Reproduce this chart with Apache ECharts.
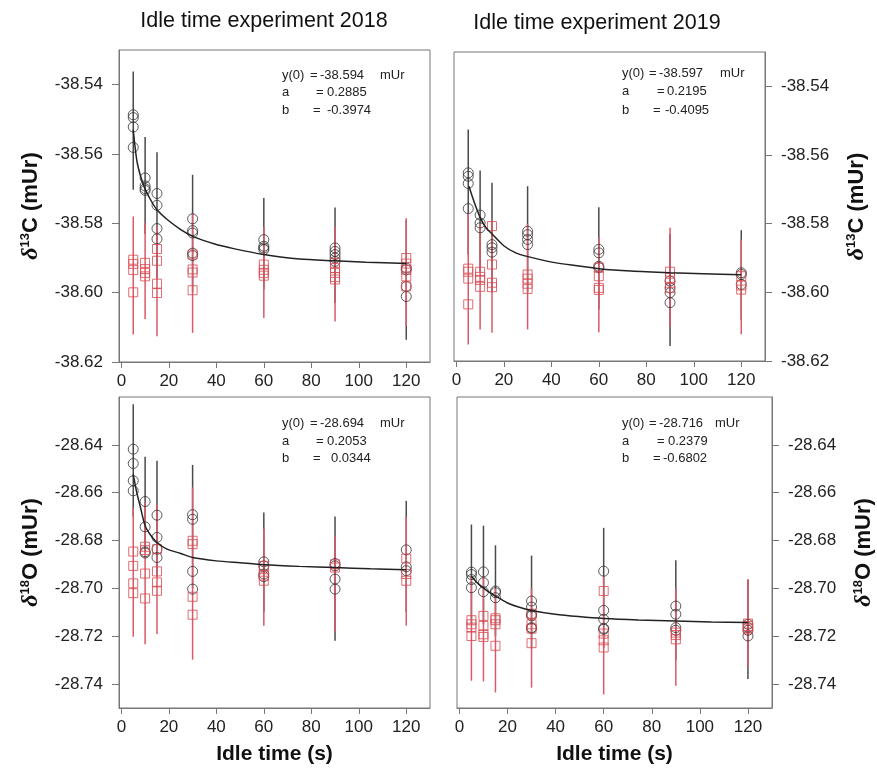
<!DOCTYPE html>
<html>
<head>
<meta charset="utf-8">
<script src="https://cdn.jsdelivr.net/npm/echarts@6/dist/echarts.min.js"></script>
<style>
  html, body { margin: 0; padding: 0; background: #fff; }
  #chart { width: 877px; height: 773px; }
</style>
</head>
<body>
<div id="chart"></div>
<script>
// idle times (s)
var idleTimes = [5, 10, 15, 30, 60, 90, 120];
var xTicks = [0, 20, 40, 60, 80, 100, 120];
var yTicksC = [-38.62, -38.60, -38.58, -38.56, -38.54];
var yTicksO = [-28.74, -28.72, -28.70, -28.68, -28.66, -28.64];

var panelTitles = ['Idle time experiment 2018', 'Idle time experiment 2019'];
var fitLabels = ['y(0)', 'a', 'b'];

//// 2018 d13C ////
var c18Black = [
    [-38.5487, -38.5495, -38.5522, -38.5581],
    [-38.5669, -38.5692, -38.5700, -38.5705],
    [-38.5714, -38.5748, -38.5815, -38.5845],
    [-38.5787, -38.5821, -38.5828, -38.5886, -38.5893],
    [-38.5847, -38.5866, -38.5871, -38.5876],
    [-38.5871, -38.5881, -38.5890, -38.5900, -38.5910],
    [-38.5929, -38.5934, -38.5982, -38.6011]
];
var c18Red = [
    [-38.5905, -38.5917, -38.5935, -38.5999],
    [-38.5914, -38.5932, -38.5943, -38.5953],
    [-38.5874, -38.5908, -38.5974, -38.6001],
    [-38.5890, -38.5933, -38.5942, -38.5993],
    [-38.5919, -38.5934, -38.5943, -38.5951],
    [-38.5914, -38.5929, -38.5943, -38.5955, -38.5962],
    [-38.5900, -38.5916, -38.5934, -38.5953, -38.5982]
];
var c18BlackHi = [-38.5362, -38.5551, -38.5595, -38.5660, -38.5727, -38.5754, -38.5790];
var c18BlackLo = [-38.5703, -38.5830, -38.5960, -38.6000, -38.5990, -38.6030, -38.6136];
var c18RedHi = [-38.5780, -38.5797, -38.5809, -38.5770, -38.5810, -38.5810, -38.5785];
var c18RedLo = [-38.6121, -38.6076, -38.6126, -38.6116, -38.6073, -38.6083, -38.6097];
var c18Fit = [[5, -38.5530], [6.7, -38.5626], [9.5, -38.5693], [12.3, -38.5732], [15, -38.5761],
    [19.3, -38.5789], [25, -38.5818], [30.5, -38.5839], [39, -38.5859], [47.3, -38.5873],
    [60, -38.5890], [75, -38.5903], [90, -38.5908], [103, -38.5912], [120, -38.5916]];
var c18Params = ['-38.594', '0.2885', '-0.3974'];

//// 2019 d13C ////
var c19Black = [
    [-38.5652, -38.5662, -38.5683, -38.5756],
    [-38.5775, -38.5798, -38.5812],
    [-38.5861, -38.5870, -38.5883],
    [-38.5822, -38.5832, -38.5846, -38.5861],
    [-38.5875, -38.5885, -38.5924, -38.5928],
    [-38.5967, -38.5987, -38.6001, -38.6030],
    [-38.5943, -38.5948, -38.5977]
];
var c19Red = [
    [-38.5931, -38.5940, -38.5960, -38.6035],
    [-38.5940, -38.5955, -38.5964, -38.5984],
    [-38.5807, -38.5919, -38.5972, -38.5985],
    [-38.5948, -38.5960, -38.5975, -38.5990],
    [-38.5928, -38.5953, -38.5987, -38.5993],
    [-38.5940, -38.5958, -38.5972, -38.5987],
    [-38.5953, -38.5980, -38.5992]
];
var c19BlackHi = [-38.5526, -38.5645, -38.5681, -38.5691, -38.5752, -38.5830, -38.5819];
var c19BlackLo = [-38.5890, -38.5940, -38.6000, -38.6000, -38.6050, -38.6156, -38.6080];
var c19RedHi = [-38.5768, -38.5800, -38.5790, -38.5800, -38.5840, -38.5812, -38.5846];
var c19RedLo = [-38.6152, -38.6108, -38.6118, -38.6108, -38.6116, -38.6100, -38.6122];
var c19Fit = [[5.3, -38.5691], [7.6, -38.5739], [10.1, -38.5783], [12.5, -38.5812], [15.3, -38.5832],
    [20.1, -38.5865], [25, -38.5885], [30.2, -38.5896], [40.2, -38.5912], [50, -38.5922],
    [60, -38.5931], [73.5, -38.5938], [90, -38.5943], [104, -38.5946], [120, -38.5949]];
var c19Params = ['-38.597', '0.2195', '-0.4095'];

//// 2018 d18O ////
var o18Black = [
    [-28.6418, -28.6478, -28.6550, -28.6592],
    [-28.6637, -28.6743, -28.6847, -28.6852],
    [-28.6694, -28.6787, -28.6836, -28.6871],
    [-28.6692, -28.6711, -28.6929, -28.7003],
    [-28.6889, -28.6906, -28.6940, -28.6951],
    [-28.6896, -28.6906, -28.6961, -28.7003],
    [-28.6839, -28.6910, -28.6926]
];
var o18Red = [
    [-28.6846, -28.6906, -28.6979, -28.7020],
    [-28.6826, -28.6840, -28.6938, -28.7042],
    [-28.6836, -28.6929, -28.6975, -28.7010],
    [-28.6801, -28.6815, -28.7035, -28.7110],
    [-28.6906, -28.6920, -28.6947, -28.6968],
    [-28.6899, -28.6913],
    [-28.6875, -28.6940, -28.6968]
];
var o18BlackHi = [-28.6230, -28.6450, -28.6467, -28.6484, -28.6683, -28.6699, -28.6634];
var o18BlackLo = [-28.6700, -28.6850, -28.6950, -28.7000, -28.7100, -28.7219, -28.7100];
var o18RedHi = [-28.6662, -28.6640, -28.6650, -28.6578, -28.6750, -28.6780, -28.6700];
var o18RedLo = [-28.7202, -28.7233, -28.7191, -28.7298, -28.7156, -28.7180, -28.7156];
var o18Fit = [[5, -28.6523], [6.5, -28.6600], [8, -28.6660], [10, -28.6738], [12.5, -28.6780],
    [15, -28.6808], [19.2, -28.6836], [25, -28.6854], [30, -28.6871], [40, -28.6885],
    [50, -28.6893], [60, -28.6901], [75, -28.6908], [90, -28.6913], [105, -28.6918], [120, -28.6922]];
var o18Params = ['-28.694', '0.2053', '0.0344'];

//// 2019 d18O ////
var o19Black = [
    [-28.6932, -28.6942, -28.6963, -28.6997],
    [-28.6931, -28.6976, -28.7014],
    [-28.7011, -28.7018, -28.7039],
    [-28.7053, -28.7078, -28.7108, -28.7115, -28.7164, -28.7167],
    [-28.6928, -28.7092, -28.7129, -28.7167, -28.7171],
    [-28.7074, -28.7108, -28.7164, -28.7175],
    [-28.7150, -28.7164, -28.7175, -28.7199]
];
var o19Red = [
    [-28.7133, -28.7150, -28.7164, -28.7199],
    [-28.7115, -28.7157, -28.7192, -28.7203],
    [-28.7125, -28.7133, -28.7150, -28.7240],
    [-28.7106, -28.7150, -28.7168, -28.7229],
    [-28.7011, -28.7189, -28.7217, -28.7247],
    [-28.7185, -28.7195, -28.7213],
    [-28.7147, -28.7157, -28.7164, -28.7171]
];
var o19BlackHi = [-28.6733, -28.6738, -28.6820, -28.6863, -28.6747, -28.6882, -28.6963];
var o19BlackLo = [-28.7150, -28.7150, -28.7200, -28.7250, -28.7250, -28.7300, -28.7379];
var o19RedHi = [-28.6950, -28.6950, -28.7000, -28.7000, -28.6950, -28.7000, -28.6963];
var o19RedLo = [-28.7386, -28.7389, -28.7435, -28.7415, -28.7443, -28.7407, -28.7330];
var o19Fit = [[5, -28.6949], [7.35, -28.6976], [9.8, -28.6997], [12.2, -28.7015], [15, -28.7032],
    [19.8, -28.7060], [24.6, -28.7078], [30, -28.7092], [39.8, -28.7108], [49.5, -28.7118],
    [60, -28.7126], [74.4, -28.7132], [90, -28.7136], [104.8, -28.7140], [120, -28.7143]];
var o19Params = ['-28.716', '0.2379', '-0.6802'];

var FONT = '"Liberation Sans", Arial, sans-serif';
var BLACK = '#333333';
var RED = '#d9474f';
var RED_BAR = '#d95a68';

function toPoints(groups) {
    var pts = [];
    groups.forEach(function (ys, i) {
        ys.forEach(function (y) { pts.push([idleTimes[i], y]); });
    });
    return pts;
}

function toBars(lo, hi) {
    return idleTimes.map(function (x, i) { return [x, lo[i], hi[i]]; });
}

function errSeries(idx, data, color, z) {
    return {
        type: 'custom',
        xAxisIndex: idx,
        yAxisIndex: idx,
        data: data,
        silent: true,
        z: z,
        encode: { x: 0, y: [1, 2] },
        renderItem: function (params, api) {
            var p1 = api.coord([api.value(0), api.value(1)]);
            var p2 = api.coord([api.value(0), api.value(2)]);
            return {
                type: 'line',
                shape: { x1: p1[0], y1: p1[1], x2: p2[0], y2: p2[1] },
                style: { stroke: color, lineWidth: 1.5 }
            };
        }
    };
}

function panelSeries(idx, black, red, bHi, bLo, rHi, rLo, fit) {
    return [
        errSeries(idx, toBars(bLo, bHi), '#4a4a4a', 1),
        errSeries(idx, toBars(rLo, rHi), RED_BAR, 2),
        {
            type: 'scatter', xAxisIndex: idx, yAxisIndex: idx, z: 3,
            symbol: 'circle', symbolSize: 10,
            itemStyle: { color: 'rgba(0,0,0,0)', borderColor: BLACK, borderWidth: 1 },
            data: toPoints(black)
        },
        {
            type: 'scatter', xAxisIndex: idx, yAxisIndex: idx, z: 3,
            symbol: 'rect', symbolSize: 9,
            itemStyle: { color: 'rgba(0,0,0,0)', borderColor: RED, borderWidth: 1 },
            data: toPoints(red)
        },
        {
            type: 'line', xAxisIndex: idx, yAxisIndex: idx, z: 4,
            smooth: 0.25, showSymbol: false,
            lineStyle: { color: '#222', width: 1.5 },
            data: fit
        }
    ];
}

var grids = [
    { left: 119, top: 50, width: 311, height: 312 },
    { left: 454, top: 52, width: 311, height: 309 },
    { left: 119, top: 397, width: 311, height: 311 },
    { left: 457, top: 397, width: 315, height: 311 }
];

function xAxisFor(idx, withName) {
    return {
        type: 'value', gridIndex: idx, min: -1, max: 130,
        axisLine: { show: true, onZero: false, lineStyle: { color: '#777' } },
        axisTick: { show: true, length: 6, customValues: xTicks, lineStyle: { color: '#777' } },
        axisLabel: { customValues: xTicks, margin: 11, fontFamily: FONT, fontSize: 17, color: '#222' },
        splitLine: { show: false },
        name: withName ? 'Idle time (s)' : '',
        nameLocation: 'middle', nameGap: 36,
        nameTextStyle: { fontFamily: FONT, fontWeight: 'bold', fontSize: 21, color: '#111' }
    };
}

function yAxisFor(idx, ticks, min, max, right, iso) {
    return {
        type: 'value', gridIndex: idx, min: min, max: max,
        position: right ? 'right' : 'left',
        axisLine: { show: true, onZero: false, lineStyle: { color: '#777' } },
        axisTick: { show: true, length: 7, customValues: ticks, lineStyle: { color: '#777' } },
        axisLabel: {
            customValues: ticks, margin: 16, fontFamily: FONT, fontSize: 17, color: '#222',
            formatter: function (v) { return v.toFixed(2); }
        },
        splitLine: { show: false },
        name: '{d|δ}{s|' + iso[0] + '}{t|' + iso[1] + ' (mUr)}',
        nameLocation: 'middle', nameGap: right ? 80 : 76, nameRotate: 90,
        nameTextStyle: {
            rich: {
                d: { fontFamily: 'Liberation Serif, serif', fontStyle: 'italic', fontWeight: 'bold', fontSize: 24, color: '#111' },
                s: { fontFamily: FONT, fontWeight: 'bold', fontSize: 13, color: '#111', verticalAlign: 'top', padding: [0, 0, 10, 0] },
                t: { fontFamily: FONT, fontWeight: 'bold', fontSize: 22, color: '#111' }
            }
        }
    };
}

// fit parameter text blocks (pixel layout)
var fitBlocks = [
    { params: c18Params, lx: 282, eq: [310, 316, 313], val: [320, 327, 327], unit: 380, rows: [75, 92.5, 110] },
    { params: c19Params, lx: 622, eq: [649, 657, 653], val: [659, 667, 665], unit: 720, rows: [73, 91.5, 110] },
    { params: o18Params, lx: 282, eq: [310, 316, 313], val: [320, 327, 331], unit: 380, rows: [423, 441.5, 458.5] },
    { params: o19Params, lx: 622, eq: [649, 657, 653], val: [659, 668, 663], unit: 715, rows: [423, 441.5, 458.5] }
];

var TXT = '13px ' + FONT;
var graphics = [
    { type: 'text', x: 264, y: 21, style: { text: panelTitles[0], font: '21.5px ' + FONT, fill: '#111', textAlign: 'center', textVerticalAlign: 'middle' } },
    { type: 'text', x: 597, y: 23, style: { text: panelTitles[1], font: '21.5px ' + FONT, fill: '#111', textAlign: 'center', textVerticalAlign: 'middle' } }
];
fitBlocks.forEach(function (b) {
    for (var i = 0; i < 3; i++) {
        graphics.push({ type: 'text', x: b.lx, y: b.rows[i], style: { text: fitLabels[i], font: TXT, fill: '#222', textVerticalAlign: 'middle' } });
        graphics.push({ type: 'text', x: b.eq[i], y: b.rows[i], style: { text: '=', font: TXT, fill: '#222', textVerticalAlign: 'middle' } });
        graphics.push({ type: 'text', x: b.val[i], y: b.rows[i], style: { text: b.params[i], font: TXT, fill: '#222', textVerticalAlign: 'middle' } });
    }
    graphics.push({ type: 'text', x: b.unit, y: b.rows[0], style: { text: 'mUr', font: TXT, fill: '#222', textVerticalAlign: 'middle' } });
});

var myChart = echarts.init(document.getElementById('chart'));

var option = {
    backgroundColor: '#fff',
    animation: false,
    grid: grids.map(function (g) {
        return Object.assign({ show: true, borderColor: '#777', borderWidth: 1, backgroundColor: 'transparent' }, g);
    }),
    xAxis: [xAxisFor(0, false), xAxisFor(1, false), xAxisFor(2, true), xAxisFor(3, true)],
    yAxis: [
        yAxisFor(0, yTicksC, -38.62, -38.53, false, ['13', 'C']),
        yAxisFor(1, yTicksC, -38.62, -38.53, true, ['13', 'C']),
        yAxisFor(2, yTicksO, -28.75, -28.62, false, ['18', 'O']),
        yAxisFor(3, yTicksO, -28.75, -28.62, true, ['18', 'O'])
    ],
    series: [].concat(
        panelSeries(0, c18Black, c18Red, c18BlackHi, c18BlackLo, c18RedHi, c18RedLo, c18Fit),
        panelSeries(1, c19Black, c19Red, c19BlackHi, c19BlackLo, c19RedHi, c19RedLo, c19Fit),
        panelSeries(2, o18Black, o18Red, o18BlackHi, o18BlackLo, o18RedHi, o18RedLo, o18Fit),
        panelSeries(3, o19Black, o19Red, o19BlackHi, o19BlackLo, o19RedHi, o19RedLo, o19Fit)
    ),
    graphic: graphics
};

myChart.setOption(option);
</script>
</body>
</html>
